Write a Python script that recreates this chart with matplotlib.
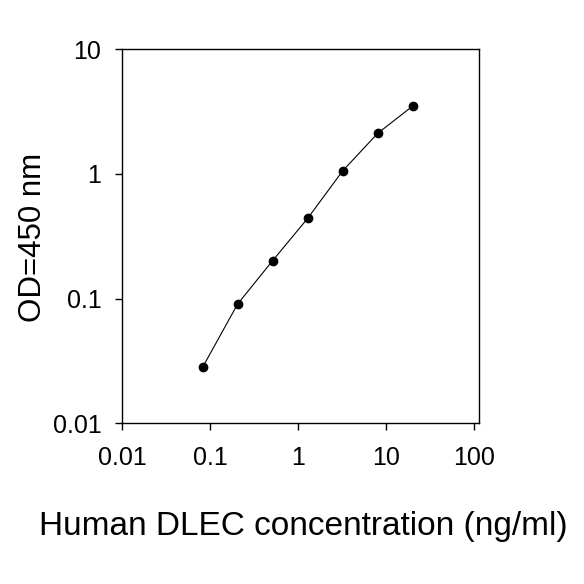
import numpy as np
import matplotlib
matplotlib.use("Agg")
import matplotlib.pyplot as plt
from matplotlib.ticker import FixedLocator, FuncFormatter, NullLocator

plt.rcParams['font.family'] = ['Liberation Sans', 'DejaVu Sans']

# concentração (ng/ml) e densidade óptica
conc = [0.08192, 0.2048, 0.512, 1.28, 3.2, 8.0, 20.0]
od = [0.0282, 0.0906, 0.202, 0.441, 1.06, 2.12, 3.51]

x_ticks = [0.01, 0.1, 1, 10, 100]
y_ticks = [0.01, 0.1, 1, 10]

fig = plt.figure(figsize=(5.84, 5.84), dpi=100)
ax = fig.add_axes([0.2094, 0.2752, 0.6113, 0.6404])

ax.plot(conc, od, color='black', linewidth=0.8, marker='o', markersize=6,
        markerfacecolor='black', markeredgecolor='black')

ax.set_xscale('log')
ax.set_yscale('log')
ax.set_xlim(0.01, 114)
ax.set_ylim(0.01, 10)

fmt = FuncFormatter(lambda v, p: '%g' % v)
ax.xaxis.set_major_locator(FixedLocator(x_ticks))
ax.yaxis.set_major_locator(FixedLocator(y_ticks))
ax.xaxis.set_major_formatter(fmt)
ax.yaxis.set_major_formatter(fmt)
ax.xaxis.set_minor_locator(NullLocator())
ax.yaxis.set_minor_locator(NullLocator())

ax.tick_params(axis='both', direction='out', length=5, width=1, labelsize=18)
ax.tick_params(axis='x', pad=11)
ax.tick_params(axis='y', pad=10)
for s in ax.spines.values():
    s.set_linewidth(1)

fig.text(0.519, 0.084, 'Human DLEC concentration (ng/ml)', ha='center',
         va='baseline', fontsize=24)
fig.text(0.057, 0.593, 'OD=450 nm', rotation=90, ha='center', va='center',
         fontsize=22.5)

fig.savefig('out.png', dpi=100)
